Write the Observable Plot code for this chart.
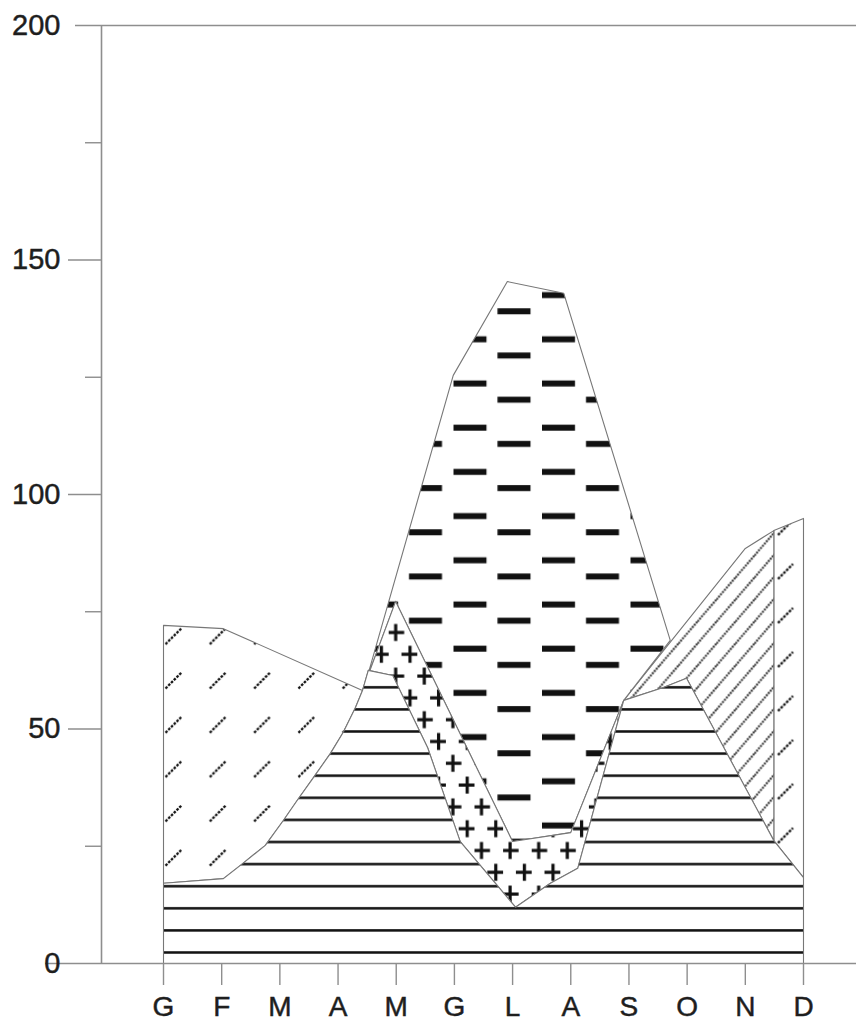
<!DOCTYPE html>
<html><head><meta charset="utf-8">
<script src="https://cdn.jsdelivr.net/npm/d3@7"></script>
<script src="https://cdn.jsdelivr.net/npm/@observablehq/plot@0.6"></script>
<style>body{margin:0;background:#fff} #chart text{stroke:#1e1e1e;stroke-width:0.45px}</style>
</head><body><div id="chart"></div>
<script>
// ---- data (month position 1..12, value in mm) ----
const months = ["G","F","M","A","M","G","L","A","S","O","N","D"];
const monthTicks = [1,2,3,4,5,6,7,8,9,10,11,12];
const yLabels = [0,50,100,150,200];
const yMajor = [50,100,150];
const yMinor = [25,75,125,175];

// top of the horizontally hatched band
const baseTop = [[1,17.1],[2.03,18.1],[2.36,21.3],[2.75,25.2],[3.06,30.5],[3.30,34.8],[3.58,39.7],[3.87,44.8],[4.09,49.3],[4.30,54.6],[4.42,58.2],[4.52,62.5],[4.94,61.4],[5.54,46],[6.10,26],[7.05,12],[7.65,17.1],[8.12,20.3],[8.91,56.1],[9.58,58.8],[9.99,60.8],[11.49,26.2],[12,18.3]];
// precipitation-like upper curve (left and right parts)
const precipLeft = [[1,72.1],[2.03,71.4],[4.42,58.2]];
const precipRight = [[8.91,56.1],[11.0,88.5],[11.49,92.3],[12,94.9]];
// upper curve of the dashed region
const potentialET = [[4.44,58.4],[5.98,125.4],[6.91,145.4],[7.88,142.9],[9.71,68.9]];
// upper curve of the crossed region
const actualET = [[4.42,58.2],[4.99,77.2],[7.0,26],[8.0,27.9],[8.91,56.1]];

const between = (c, a, b) => c.filter(d => d[0] >= a - 1e-9 && d[0] <= b + 1e-9);
const rev = a => a.slice().reverse();

const polyS1 = [...precipLeft, ...rev(between(baseTop, 1, 4.42))];
const polyR  = [...between(precipRight, 8.91, 11.49), ...rev(between(baseTop, 8.91, 11.49))];
const polyS2 = [...between(precipRight, 11.49, 12), ...rev(between(baseTop, 11.49, 12))];
const polyD  = [...potentialET, ...rev(actualET)];
const polyC  = [...actualET, ...rev(between(baseTop, 4.42, 8.91))];
const polyH  = [...baseTop, [12,0], [1,0]];

const xMin = -0.0657, xMax = 12.911;
const outline = "#777", axisGray = "#8e8e8e";
const poly = (d, fill) => Plot.line(d, {x: p => p[0], y: p => p[1], curve: "linear-closed", fill, stroke: outline, strokeWidth: 1.1});

const svg = Plot.plot({
  width: 856, height: 1023,
  marginTop: 25, marginBottom: 60, marginLeft: 101, marginRight: 0,
  x: {domain: [xMin, xMax]},
  y: {domain: [0, 200]},
  style: {fontFamily: "'Liberation Sans', Arial, sans-serif", background: "white", overflow: "visible"},
  marks: [
    poly(polyS1, "url(#sl1)"),
    poly(polyS2, "url(#sl2)"),
    poly(polyR, "url(#dense)"),
    poly(polyD, "url(#dash)"),
    poly(polyC, "url(#plus)"),
    poly(polyH, "url(#hl)"),
    Plot.ruleY([0], {x1: -1.028, x2: xMax, stroke: axisGray, strokeWidth: 1.6}),
    Plot.ruleY([200], {x1: -0.5126, x2: xMax, stroke: axisGray, strokeWidth: 1.6}),
    Plot.ruleX([xMin], {y1: 0, y2: 200, stroke: axisGray, strokeWidth: 1.6}),
    Plot.axisY(yMinor, {tickSize: 16, tickFormat: () => "", color: axisGray, strokeWidth: 1.4, label: null}),
    Plot.axisY(yMajor, {tickSize: 33, tickFormat: () => "", color: axisGray, strokeWidth: 1.4, label: null}),
    Plot.axisY(yLabels, {tickSize: 0, tickPadding: 41, fontSize: 29, color: "#1e1e1e", label: null}),
    Plot.axisX(monthTicks, {tickSize: 22, tickFormat: () => "", color: axisGray, strokeWidth: 1.4, label: null}),
    Plot.axisX(monthTicks, {tickSize: 0, tickPadding: 33, tickFormat: d => months[d - 1], fontSize: 28, color: "#1e1e1e", label: null})
  ]
});

d3.select(svg).insert("defs", ":first-child").html(`
<pattern id="hl" patternUnits="userSpaceOnUse" x="0" y="941" width="20" height="22.1">
  <rect width="20" height="22.1" fill="white"/>
  <rect x="0" y="9.75" width="20" height="2.5" fill="#111"/>
</pattern>
<pattern id="dash" patternUnits="userSpaceOnUse" x="453" y="345" width="88.5" height="44.2">
  <rect width="88.5" height="44.2" fill="white"/>
  <rect x="0" y="35" width="33" height="6" fill="#111"/>
  <rect x="44" y="7" width="33" height="6" fill="#111"/>
</pattern>
<pattern id="plus" patternUnits="userSpaceOnUse" x="474" y="839" width="28.6" height="43.6">
  <rect width="28.6" height="43.6" fill="white"/>
  <rect x="-1.5" y="9.4" width="17" height="3.2" fill="#111"/>
  <rect x="5.4" y="2.5" width="3.2" height="17" fill="#111"/>
  <rect x="12.8" y="31.2" width="17" height="3.2" fill="#111"/>
  <rect x="19.7" y="24.3" width="3.2" height="17" fill="#111"/>
</pattern>
<pattern id="sl1" patternUnits="userSpaceOnUse" x="150.85" y="657.85" width="44.3" height="44.3">
  <rect width="44.3" height="44.3" fill="white"/>
  <line x1="14.2" y1="30.1" x2="30.1" y2="14.2" stroke="#111" stroke-width="2.3" stroke-dasharray="2.6 1.3"/>
</pattern>
<pattern id="sl2" patternUnits="userSpaceOnUse" x="763" y="681" width="44" height="44">
  <rect width="44" height="44" fill="white"/>
  <line x1="14.5" y1="29.5" x2="29.5" y2="14.5" stroke="#111" stroke-width="2.3" stroke-dasharray="2.6 1.3"/>
</pattern>
<pattern id="dense" patternUnits="userSpaceOnUse" x="754" y="533" width="19" height="22">
  <rect width="19" height="22" fill="white"/>
  <g stroke="#111" stroke-width="2" stroke-dasharray="1.8 1.2">
    <line x1="0" y1="22" x2="19" y2="0"/>
    <line x1="0" y1="0" x2="19" y2="-22"/>
    <line x1="0" y1="44" x2="19" y2="22"/>
  </g>
</pattern>`);

document.getElementById("chart").append(svg);
</script>
</body></html>
